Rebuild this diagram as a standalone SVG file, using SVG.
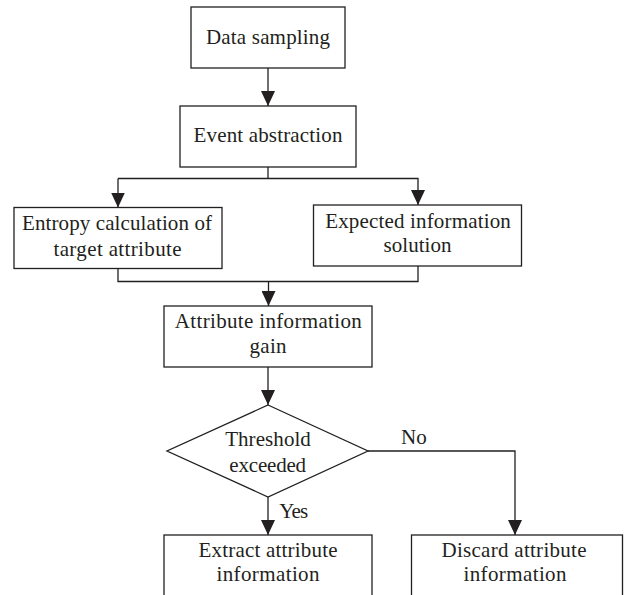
<svg xmlns="http://www.w3.org/2000/svg" width="624" height="595" viewBox="0 0 624 595">
<style>
.box{fill:#fff;stroke:#231f20;stroke-width:1.3}
.ln{fill:none;stroke:#231f20;stroke-width:1.3}
text{font-family:"Liberation Serif","Times New Roman",serif;font-size:21px;fill:#231f20}
.c{text-anchor:middle}
</style>
<defs>
<marker id="ah" markerUnits="userSpaceOnUse" markerWidth="15" markerHeight="14" refX="15" refY="7" orient="auto">
<path d="M0,0 L15,7 L0,14 z" fill="#231f20"/>
</marker>
</defs>
<rect width="624" height="595" fill="#fff"/>
<g id="connectors">
<line class="ln" x1="268" y1="68" x2="268" y2="106" marker-end="url(#ah)"/>
<polyline class="ln" points="268,167 268,178.5"/>
<polyline class="ln" points="118,178.5 418,178.5 418,205" marker-end="url(#ah)"/>
<line class="ln" x1="118" y1="178.5" x2="118" y2="207.5" marker-end="url(#ah)"/>
<polyline class="ln" points="118,268.5 118,281.5 418,281.5 418,266"/>
<line class="ln" x1="268.5" y1="281.5" x2="268.5" y2="306" marker-end="url(#ah)"/>
<line class="ln" x1="268" y1="367" x2="268" y2="405" marker-end="url(#ah)"/>
<line class="ln" x1="268" y1="497" x2="268" y2="535" marker-end="url(#ah)"/>
<polyline class="ln" points="368,451 515,451 515,535" marker-end="url(#ah)"/>
<text x="401" y="444" textLength="25.7">No</text>
<text x="279.3" y="518" textLength="29">Yes</text>
</g>
<g id="data-sampling">
<rect class="box" x="191" y="7" width="154" height="61"/>
<text class="c" x="268" y="43.5" textLength="124">Data sampling</text>
</g>
<g id="event-abstraction">
<rect class="box" x="180" y="106" width="176" height="61"/>
<text class="c" x="268" y="141.5" textLength="149">Event abstraction</text>
</g>
<g id="entropy-calculation">
<rect class="box" x="14" y="207.5" width="208" height="61"/>
<text class="c" x="117" y="230" textLength="190">Entropy calculation of</text>
<text class="c" x="117.5" y="255.7" textLength="128">target attribute</text>
</g>
<g id="expected-information">
<rect class="box" x="313.5" y="205" width="208" height="61"/>
<text class="c" x="418" y="228.3" textLength="185.7">Expected information</text>
<text class="c" x="417.5" y="252.3" textLength="68">solution</text>
</g>
<g id="attribute-gain">
<rect class="box" x="164" y="306" width="208" height="61"/>
<text class="c" x="268.3" y="328" textLength="187">Attribute information</text>
<text class="c" x="268" y="352.5" textLength="37">gain</text>
</g>
<g id="threshold">
<polygon class="box" points="268,405 368,451 268,497 167,451"/>
<text class="c" x="268" y="445.5" textLength="85.7">Threshold</text>
<text class="c" x="267.7" y="471.5" textLength="76.7">exceeded</text>
</g>
<g id="extract">
<rect class="box" x="164" y="535" width="208" height="75"/>
<text class="c" x="268" y="556.5" textLength="139">Extract attribute</text>
<text class="c" x="268" y="581" textLength="103">information</text>
</g>
<g id="discard">
<rect class="box" x="411.5" y="535" width="211" height="75"/>
<text class="c" x="514" y="556.5" textLength="145">Discard attribute</text>
<text class="c" x="515" y="581" textLength="103">information</text>
</g>
</svg>
